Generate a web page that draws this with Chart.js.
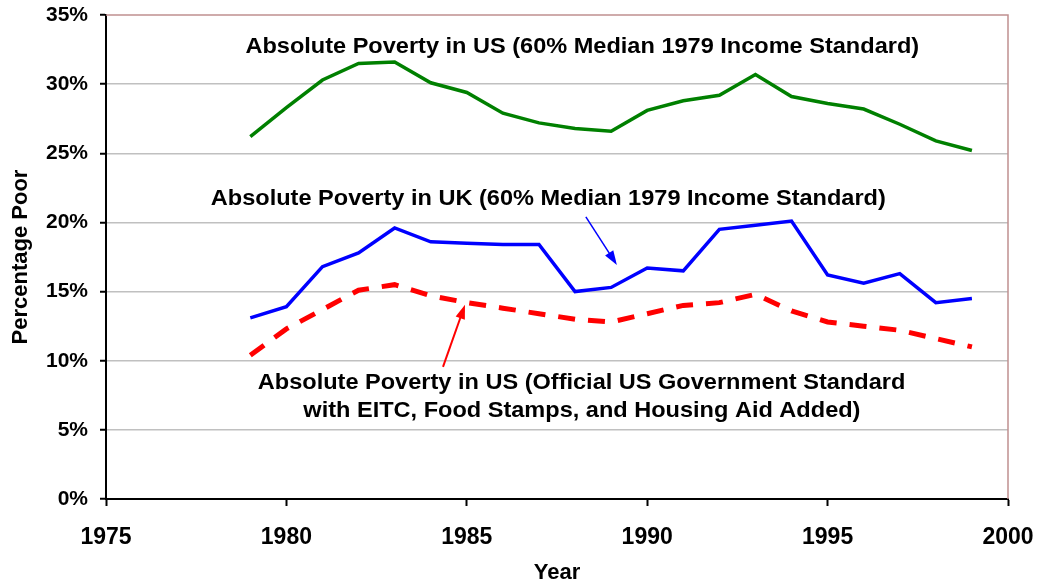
<!DOCTYPE html>
<html lang="en">
<head>
<meta charset="utf-8" />
<title>Absolute poverty US vs UK</title>
<script src="https://cdn.jsdelivr.net/npm/chart.js@4.4.0/dist/chart.umd.min.js"></script>
<style>
  html, body { margin: 0; padding: 0; background: #fff; }
  #wrap { width: 1039px; height: 586px; }
</style>
</head>
<body>
<div id="wrap"><canvas id="chart"></canvas></div>
<script>
const years = [1979, 1980, 1981, 1982, 1983, 1984, 1985, 1986, 1987, 1988, 1989,
               1990, 1991, 1992, 1993, 1994, 1995, 1996, 1997, 1998, 1999];
const usRelative = [26.2, 28.3, 30.3, 31.5, 31.6, 30.1, 29.4, 27.9, 27.2, 26.8, 26.6,
                    28.1, 28.8, 29.2, 30.7, 29.1, 28.6, 28.2, 27.1, 25.9, 25.2];
const ukRelative = [13.1, 13.9, 16.8, 17.8, 19.6, 18.6, 18.5, 18.4, 18.4, 15.0, 15.3,
                    16.7, 16.5, 19.5, 19.8, 20.1, 16.2, 15.6, 16.3, 14.2, 14.5];
const usOfficial = [10.4, 12.3, 13.7, 15.1, 15.5, 14.7, 14.2, 13.8, 13.4, 13.0, 12.8,
                    13.4, 14.0, 14.2, 14.8, 13.6, 12.8, 12.5, 12.2, 11.6, 11.0];

// text notes, positioned in data units
const notes = [
  { text: 'Absolute Poverty in US (60% Median 1979 Income Standard)', x: 1988.2, y: 32.68 },
  { text: 'Absolute Poverty in UK (60% Median 1979 Income Standard)', x: 1987.26, y: 21.7 },
  { text: 'Absolute Poverty in US (Official US Government Standard', x: 1988.18, y: 8.4 },
  { text: 'with EITC, Food Stamps, and Housing Aid Added)', x: 1988.19, y: 6.38 }
];
const arrows = [
  { from: [1988.30, 20.40], to: [1989.16, 16.93], color: '#0000ff', width: 1.5 },
  { from: [1984.34, 9.56], to: [1984.95, 14.05], color: '#ff0000', width: 2 }
];

const toPoints = vals => vals.map((v, i) => ({ x: years[i], y: v }));

const notesPlugin = {
  id: 'notes',
  afterDatasetsDraw(chart) {
    const { ctx, chartArea, scales } = chart;
    const xs = scales.x, ys = scales.y;
    ctx.save();
    // frame on top and right
    ctx.strokeStyle = '#c09090';
    ctx.lineWidth = 1.5;
    ctx.beginPath();
    ctx.moveTo(chartArea.left, chartArea.top);
    ctx.lineTo(chartArea.right, chartArea.top);
    ctx.lineTo(chartArea.right, chartArea.bottom);
    ctx.stroke();

    ctx.fillStyle = '#000';
    ctx.font = 'bold 22px "Liberation Sans", Arial, sans-serif';
    ctx.textAlign = 'center';
    ctx.textBaseline = 'middle';
    notes.forEach(n => {
      const px = xs.getPixelForValue(n.x), py = ys.getPixelForValue(n.y);
      ctx.save();
      ctx.translate(px, py);
      ctx.scale(1.07, 1);   // the original lettering is slightly wide
      ctx.fillText(n.text, 0, 0);
      ctx.restore();
    });

    arrows.forEach(a => {
      const x1 = xs.getPixelForValue(a.from[0]), y1 = ys.getPixelForValue(a.from[1]);
      const x2 = xs.getPixelForValue(a.to[0]), y2 = ys.getPixelForValue(a.to[1]);
      const ang = Math.atan2(y2 - y1, x2 - x1);
      const head = 15;
      ctx.strokeStyle = a.color;
      ctx.fillStyle = a.color;
      ctx.lineWidth = a.width;
      ctx.beginPath();
      ctx.moveTo(x1, y1);
      ctx.lineTo(x2 - Math.cos(ang) * head * 0.8, y2 - Math.sin(ang) * head * 0.8);
      ctx.stroke();
      ctx.beginPath();
      ctx.moveTo(x2, y2);
      ctx.lineTo(x2 - head * Math.cos(ang - 0.33), y2 - head * Math.sin(ang - 0.33));
      ctx.lineTo(x2 - head * Math.cos(ang + 0.33), y2 - head * Math.sin(ang + 0.33));
      ctx.closePath();
      ctx.fill();
    });
    ctx.restore();
  }
};

const ctx = document.getElementById('chart').getContext('2d');
new Chart(ctx, {
  type: 'line',
  data: {
    datasets: [
      { label: 'US 60% median', data: toPoints(usRelative), borderColor: '#008000', borderWidth: 3.5 },
      { label: 'UK 60% median', data: toPoints(ukRelative), borderColor: '#0000ff', borderWidth: 3.5 },
      { label: 'US official', data: toPoints(usOfficial), borderColor: '#ff0000', borderWidth: 5,
        borderDash: [17, 13] }
    ]
  },
  options: {
    responsive: true,
    maintainAspectRatio: false,
    animation: false,
    layout: { padding: { top: 15, right: 31, left: 0, bottom: 0 } },
    elements: { point: { radius: 0 }, line: { tension: 0, borderCapStyle: 'butt' } },
    plugins: { legend: { display: false }, tooltip: { enabled: false } },
    scales: {
      x: {
        type: 'linear',
        min: 1975,
        max: 2000,
        afterFit: s => { s.height = 87; s.paddingLeft = 0; s.paddingRight = 0; },
        ticks: {
          stepSize: 5,
          padding: 18,
          color: '#000',
          font: { family: '"Liberation Sans", Arial, sans-serif', size: 23, weight: 'bold' },
          callback: v => String(v),
          maxRotation: 0
        },
        grid: { drawOnChartArea: false, drawTicks: true, tickLength: 7, tickColor: '#000', tickWidth: 2 },
        border: { color: '#000', width: 2 },
        title: {
          display: true,
          text: 'Year',
          color: '#000',
          padding: { top: 2, bottom: 0 },
          font: { family: '"Liberation Sans", Arial, sans-serif', size: 22, weight: 'bold' }
        }
      },
      y: {
        min: 0,
        max: 35,
        afterFit: s => { s.width = 106; s.paddingTop = 0; s.paddingBottom = 0; },
        ticks: {
          stepSize: 5,
          padding: 12,
          color: '#000',
          font: { family: '"Liberation Sans", Arial, sans-serif', size: 21, weight: 'bold' },
          callback: v => v + '%'
        },
        grid: {
          color: c => (c.tick.value === 0 || c.tick.value === 35) ? 'rgba(0,0,0,0)' : '#c0c0c0',
          lineWidth: 1.5,
          tickLength: 6,
          tickColor: '#000',
          tickWidth: 2
        },
        border: { color: '#000', width: 2 },
        title: {
          display: true,
          text: 'Percentage Poor',
          color: '#000',
          padding: { top: 8, bottom: 0 },
          font: { family: '"Liberation Sans", Arial, sans-serif', size: 22, weight: 'bold' }
        }
      }
    }
  },
  plugins: [notesPlugin]
});
</script>
</body>
</html>
